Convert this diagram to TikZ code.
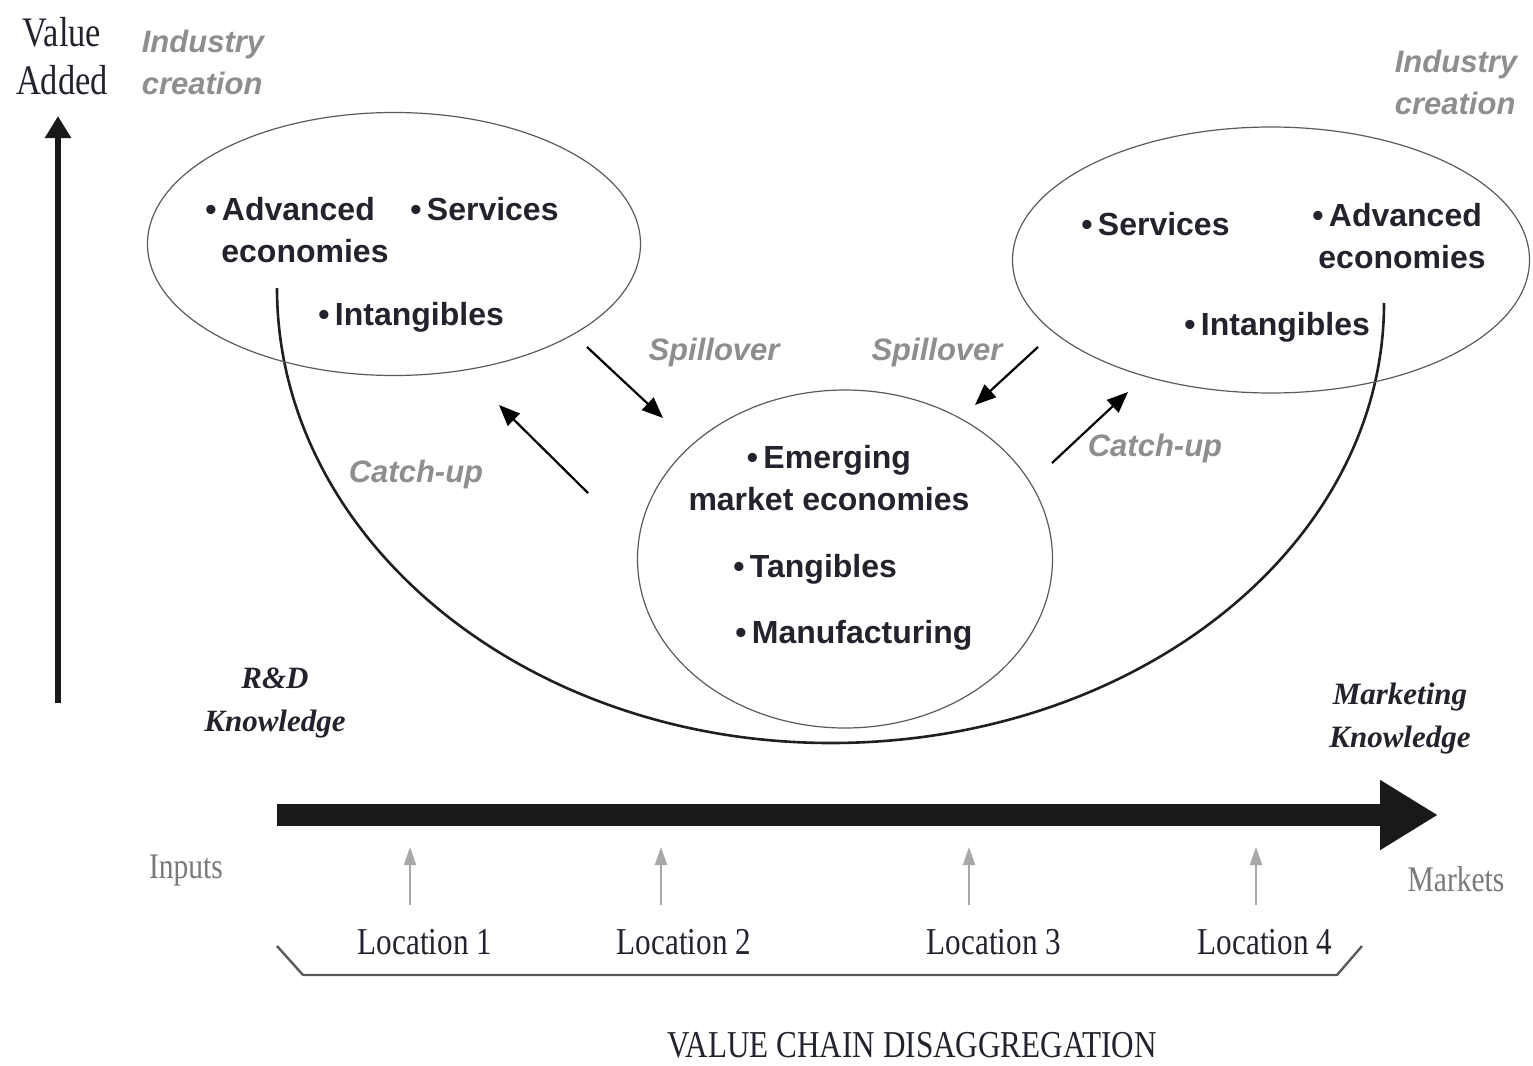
\documentclass[tikz,border=0pt]{standalone}
\usepackage{fontspec}
\setmainfont{Liberation Serif}
\setsansfont{Liberation Sans}
\newfontfamily\narrowserif[FakeStretch=0.82]{Liberation Serif}
\usetikzlibrary{arrows.meta,shapes.geometric}
\definecolor{ink}{HTML}{23232D}
\definecolor{softgray}{HTML}{8E8E90}
\definecolor{rimgray}{HTML}{5A5A5A}
\definecolor{tickgray}{HTML}{A8A8A8}

\begin{document}
\begin{tikzpicture}[
        x=1pt, y=-1pt,
        thick,
        font=\sffamily\bfseries
    ]
    \tikzset{
        blob/.style = {ellipse, draw=rimgray, line width=1.2pt, inner sep=0pt},
        itemtxt/.style = {inner sep=0pt, anchor=base west, text=ink, align=left,
            font=\sffamily\bfseries\fontsize{32}{42}\selectfont},
        flowtxt/.style = {inner sep=0pt, text=softgray,
            font=\sffamily\bfseries\itshape\fontsize{31}{42}\selectfont},
        knowtxt/.style = {inner sep=0pt, text=ink, align=center,
            font=\rmfamily\bfseries\itshape\fontsize{31}{43}\selectfont},
        axistxt/.style = {inner sep=0pt, text=ink, align=center,
            font=\narrowserif\fontsize{42}{48}\selectfont},
        loctxt/.style = {inner sep=0pt, anchor=base, text=ink,
            font=\narrowserif\fontsize{38}{44}\selectfont},
        endtxt/.style = {inner sep=0pt, anchor=base, text=softgray!85!black,
            font=\narrowserif\fontsize{36}{44}\selectfont},
        flow/.style = {-{Triangle[length=21pt,width=17pt]}, line width=2.2pt, black},
        tick/.style = {-{Triangle[length=18pt,width=12pt]}, line width=2pt, tickgray},
        axis/.style = {-{Triangle[length=22pt,width=25pt]}, line width=6pt, black!90},
        chain/.style = {-{Triangle[length=58pt,width=66pt]}, line width=22pt, black!90},
        ucurve/.style = {line width=2.6pt, black!88},
        bracket/.style = {line width=2.4pt, rimgray, line join=round},
    }
    \useasboundingbox (0,0) rectangle (1533,1065);
    %
    % value added axis
    \coordinate (ax0) at (58,703);
    \coordinate (ax1) at (58,116);
    \draw[axis] (ax0) -- (ax1);
    \node[axistxt] at (62,56) (va) {Value\\Added};
    %
    \node[flowtxt, align=left] at (203,62) (ic1) {Industry\\creation};
    \node[flowtxt, align=left] at (1456,82) (ic2) {Industry\\creation};
    %
    % the smile curve
    \coordinate (uL) at (277,288);
    \draw[ucurve] (uL) arc[start angle=180, end angle=90, x radius=554, y radius=455]
        coordinate (uB) arc[start angle=90, end angle=0, x radius=553, y radius=440];
    %
    % three groups of economies
    \node[blob, minimum width=493, minimum height=263] at (394,244) (adv1) {};
    \node[blob, minimum width=517, minimum height=266] at (1271,260) (adv2) {};
    \node[blob, minimum width=415, minimum height=338] at (845,559) (emg) {};
    %
    % (base of a two-line node sits on its last line)
    \node[itemtxt] at (205,262) (a1) {\textbullet\,Advanced\\\hspace*{16pt}economies};
    \node[itemtxt] at (410,220) (s1) {\textbullet\,Services};
    \node[itemtxt] at (318,325) (i1) {\textbullet\,Intangibles};
    %
    \node[itemtxt] at (1081,235) (s2) {\textbullet\,Services};
    \node[itemtxt] at (1312,268) (a2) {\textbullet\,Advanced\\\hspace*{6pt}economies};
    \node[itemtxt] at (1184,335) (i2) {\textbullet\,Intangibles};
    %
    \node[itemtxt, anchor=base, align=center] at (829,510) (e1) {\textbullet\,Emerging\\market economies};
    \node[itemtxt] at (733,577) (t1) {\textbullet\,Tangibles};
    \node[itemtxt] at (735,643) (m1) {\textbullet\,Manufacturing};
    %
    % spillover and catch-up
    \coordinate (sp1a) at (587,347);  \coordinate (sp1b) at (663,418);
    \coordinate (cu1a) at (588,493);  \coordinate (cu1b) at (499,405);
    \coordinate (sp2a) at (1038,347); \coordinate (sp2b) at (975,405);
    \coordinate (cu2a) at (1052,463); \coordinate (cu2b) at (1128,392);
    \draw[flow] (sp1a) -- (sp1b);
    \draw[flow] (cu1a) -- (cu1b);
    \draw[flow] (sp2a) -- (sp2b);
    \draw[flow] (cu2a) -- (cu2b);
    \node[flowtxt] at (714,352) (sp1) {Spillover};
    \node[flowtxt] at (937,352) (sp2) {Spillover};
    \node[flowtxt] at (416,474) (cu1) {Catch-up};
    \node[flowtxt] at (1155,448) (cu2) {Catch-up};
    %
    \node[knowtxt] at (275,703) (rd) {R\&D\\Knowledge};
    \node[knowtxt] at (1400,719) (mk) {Marketing\\Knowledge};
    %
    % value chain
    \coordinate (vc0) at (277,815);
    \coordinate (vc1) at (1438,815);
    \draw[chain] (vc0) -- (vc1);
    \node[endtxt] at (186,878) (in) {Inputs};
    \node[endtxt] at (1456,891) (mkt) {Markets};
    %
    \foreach \x/\lx/\n in {410/425/1, 661/684/2, 969/994/3, 1256/1265/4} {
        \coordinate (tk\n a) at (\x,905);
        \coordinate (tk\n b) at (\x,847);
        \draw[tick] (tk\n a) -- (tk\n b);
        \node[loctxt] at (\lx,954) (loc\n) {Location \n};
    }
    \coordinate (br0) at (277,946);
    \coordinate (br1) at (303,975);
    \coordinate (br2) at (1337,975);
    \coordinate (br3) at (1362,946);
    \draw[bracket] (br0) -- (br1) -- (br2) -- (br3);
    \node[loctxt] at (912,1057) (vcd) {VALUE CHAIN DISAGGREGATION};
\end{tikzpicture}
\end{document}
